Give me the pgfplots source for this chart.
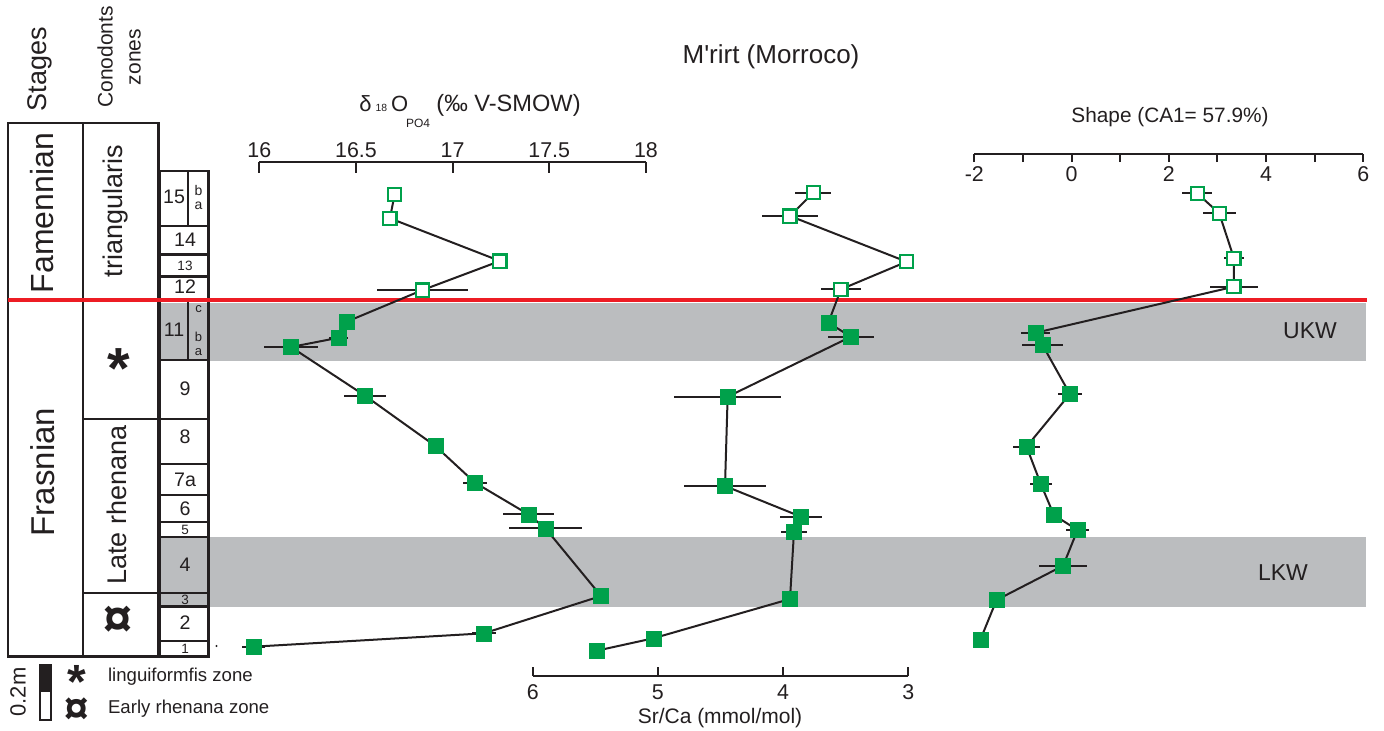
\documentclass[border=0pt]{standalone}
\usepackage{pgfplots}
\pgfplotsset{compat=1.18}
\usepackage{pgfplotstable}
\usepackage{fontspec}
\setmainfont{Liberation Sans}
\font\aposfont="Liberation Sans" at 13pt
\definecolor{grn}{RGB}{0,161,75}
\definecolor{bandgray}{RGB}{187,189,191}
\definecolor{txt}{RGB}{35,31,32}
\definecolor{redline}{RGB}{237,28,36}
\newcommand{\fs}[1]{\fontsize{#1}{#1}\selectfont}

% y = stratigraphic position (pixel rows of the log, top = 0)
\pgfplotstableread{
y x e
194.3 16.70 0
218.3 16.676 0
261.0 17.245 0
290.0 16.845 0.235
321.7 16.452 0
337.7 16.411 0.05
347.0 16.164 0.14
395.7 16.547 0.11
446.0 16.911 0
482.7 17.116 0.06
514.3 17.392 0.13
528.3 17.48 0.19
596.0 17.768 0
633.3 17.162 0.06
646.7 15.969 0.06
}\dO

\pgfplotstableread{
y x e
192.7 3.759 0.144
216.0 3.945 0.225
261.7 3.013 0
289.3 3.538 0.16
322.7 3.639 0
336.7 3.458 0.18
396.7 4.443 0.43
486.0 4.464 0.325
516.7 3.857 0.17
531.7 3.913 0.10
599.0 3.945 0
638.3 5.037 0
650.7 5.489 0
}\SrCa

\pgfplotstableread{
y x e
193.3 2.584 0.31
213.3 3.037 0.34
258.3 3.34 0.2
286.7 3.34 0.5
332.7 -0.735 0.3
345.0 -0.597 0.43
394.0 -0.035 0.25
446.7 -0.926 0.27
484.0 -0.632 0.22
515.0 -0.364 0
530.0 0.123 0.24
565.7 -0.173 0.49
600.0 -1.543 0.08
639.3 -1.872 0.05
}\Shape

\pgfplotsset{
  panel/.style={scale only axis, axis y line=none, ytick=\empty, clip=false,
    enlargelimits=false, y dir=reverse,
    axis line style={line width=1pt, txt, -},
    major tick style={line width=1pt, txt},
    minor tick style={line width=1pt, txt},
    ticklabel style={font=\fs{10.7}, text=txt},
    /pgf/number format/assume math mode=true},
  conn/.style={txt, line width=1pt, mark=none,
    error bars/.cd, x dir=both, x explicit, error mark=none,
    error bar style={line width=1pt, txt}},
  openmk/.style={only marks, mark=square*, mark size=3.3pt,
    mark options={fill=white, draw=grn, line width=1.1pt},
    skip coords between index={4}{40}},
  fillmk/.style={only marks, mark=square*, mark size=3.75pt,
    mark options={fill=grn, draw=grn, line width=0.2pt},
    skip coords between index={0}{4}},
}

\begin{document}
\begin{tikzpicture}[color=txt]
\useasboundingbox (0,0) rectangle (692pt,365pt);

% ---------- base canvas: log column, bands, labels ----------
\begin{axis}[name=base, at={(0,0)}, anchor=south west, scale only axis,
  width=692pt, height=365pt, xmin=0, xmax=1384, ymin=0, ymax=730,
  y dir=reverse, axis lines=none, xtick=\empty, ytick=\empty, clip=false]

\fill[bandgray] (axis cs:160,302.5) rectangle (axis cs:1366,360.5);
\fill[bandgray] (axis cs:160,537) rectangle (axis cs:1366,606.5);

% stages & conodont columns
\draw[line width=1.1pt] (axis cs:8.3,123) rectangle (axis cs:83,656.5);
\draw[line width=1.1pt] (axis cs:83,123) rectangle (axis cs:158.5,656.5);
\draw[line width=1.1pt] (axis cs:8.3,299) -- (axis cs:158.5,299);
\draw[line width=1.1pt] (axis cs:83,419) -- (axis cs:160,419);
\draw[line width=1.1pt] (axis cs:83,593) -- (axis cs:160,593);

% bed numbers column
\draw[line width=1.1pt] (axis cs:159.5,171) rectangle (axis cs:208.5,656.5);
\draw[line width=1.1pt] (axis cs:159.5,226) -- (axis cs:208.5,226);
\draw[line width=1.1pt] (axis cs:159.5,254.5) -- (axis cs:208.5,254.5);
\draw[line width=1.1pt] (axis cs:159.5,276.5) -- (axis cs:208.5,276.5);
\draw[line width=1.1pt] (axis cs:159.5,299) -- (axis cs:208.5,299);
\draw[line width=1.1pt] (axis cs:159.5,360) -- (axis cs:208.5,360);
\draw[line width=1.1pt] (axis cs:159.5,419) -- (axis cs:208.5,419);
\draw[line width=1.1pt] (axis cs:159.5,464) -- (axis cs:208.5,464);
\draw[line width=1.1pt] (axis cs:159.5,495) -- (axis cs:208.5,495);
\draw[line width=1.1pt] (axis cs:159.5,522) -- (axis cs:208.5,522);
\draw[line width=1.1pt] (axis cs:159.5,537) -- (axis cs:208.5,537);
\draw[line width=1.1pt] (axis cs:159.5,593) -- (axis cs:208.5,593);
\draw[line width=1.1pt] (axis cs:159.5,606.5) -- (axis cs:208.5,606.5);
\draw[line width=1.1pt] (axis cs:159.5,641) -- (axis cs:208.5,641);
\draw[line width=1.1pt] (axis cs:188,171) -- (axis cs:188,226);
\draw[line width=1.1pt] (axis cs:188,299) -- (axis cs:188,360);

\node[font=\fs{9.8}] at (axis cs:174,197) {15};
\node[font=\fs{7}] at (axis cs:198.5,190) {b};
\node[font=\fs{7}] at (axis cs:198.5,206) {a};
\node[font=\fs{9.8}] at (axis cs:185,240) {14};
\node[font=\fs{6.75}] at (axis cs:185,265.5) {13};
\node[font=\fs{9.8}] at (axis cs:185,287) {12};
\node[font=\fs{9.8}] at (axis cs:174,330) {11};
\node[font=\fs{6.5}] at (axis cs:198.5,309) {c};
\node[font=\fs{6.5}] at (axis cs:198.5,337) {b};
\node[font=\fs{6.5}] at (axis cs:198.5,352) {a};
\node[font=\fs{9.8}] at (axis cs:185,389) {9};
\node[font=\fs{9.8}] at (axis cs:185,437) {8};
\node[font=\fs{9.8}] at (axis cs:185,480) {7a};
\node[font=\fs{9.8}] at (axis cs:185,509) {6};
\node[font=\fs{6.75}] at (axis cs:185,530) {5};
\node[font=\fs{9.8}] at (axis cs:185,565) {4};
\node[font=\fs{6.75}] at (axis cs:185,600) {3};
\node[font=\fs{9.8}] at (axis cs:185,623) {2};
\node[font=\fs{6.75}] at (axis cs:185,649) {1};
\fill (axis cs:216.5,646) circle (0.6pt);

\node[rotate=90, font=\fs{13.5}] at (axis cs:40,69) {Stages};
\node[rotate=90, align=center, font=\fontsize{10.5}{14}\selectfont] at (axis cs:119,57) {Conodonts\\zones};
\node[rotate=90, font=\fs{16}] at (axis cs:42,213) {Famennian};
\node[rotate=90, font=\fs{16.5}] at (axis cs:43,472) {Frasnian};
\node[rotate=90, font=\fs{13.5}] at (axis cs:116,211) {triangularis};
\node[rotate=90, font=\fs{13.5}] at (axis cs:117,505) {Late rhenana};
\node[anchor=base, inner sep=0, font=\fs{29}\bfseries] at (axis cs:119,388) {*};
\node[anchor=base, inner sep=0, font=\fs{26}\bfseries] at (axis cs:118,636) {¤};

% legend
\fill (axis cs:40,665) rectangle (axis cs:50.7,692);
\draw[line width=0.9pt] (axis cs:40,665) rectangle (axis cs:50.7,720);
\node[rotate=90, font=\fs{11}] at (axis cs:18,692) {0.2m};
\node[anchor=base, inner sep=0, font=\fs{24}\bfseries] at (axis cs:77,698) {*};
\node[anchor=base, inner sep=0, font=\fs{22}\bfseries] at (axis cs:77,723) {¤};
\node[anchor=west, font=\fs{9.3}] at (axis cs:101,677) {linguiformfis zone};
\node[anchor=west, font=\fs{9.3}] at (axis cs:101,709) {Early rhenana zone};

% red boundary
\draw[redline, line width=2.3pt] (axis cs:8,300) -- (axis cs:1367,300);

% titles
\node[font=\fs{13}] at (axis cs:771,57) {M{\aposfont\char"0027}rirt (Morroco)};
\node[anchor=base west, inner sep=0, font=\fs{11}] at (axis cs:359,111)
  {δ\hspace{2pt}{\fs{5.2}18}\hspace{2pt}O};
\node[font=\fs{6}] at (axis cs:418,123) {PO4};
\node[anchor=base west, inner sep=0, font=\fs{11.8}] at (axis cs:436,111) {(‰ V-SMOW)};
\node[font=\fs{10.4}] at (axis cs:1170,117) {Shape (CA1= 57.9\%)};
\node[font=\fs{10.5}] at (axis cs:720,718) {Sr/Ca (mmol/mol)};
\node[font=\fs{11.5}] at (axis cs:1310,331) {UKW};
\node[font=\fs{11.5}] at (axis cs:1283,573) {LKW};
\end{axis}

% ---------- delta 18O panel ----------
\begin{axis}[panel, at={(129.65pt,0pt)}, anchor=south west,
  width=193.3pt, height=284pt, xmin=16, xmax=18, ymin=162, ymax=730,
  axis x line*=top, tick align=inside, major tick length=5.5pt,
  xtick={16,16.5,17,17.5,18}, xticklabels={16,16.5,17,17.5,18},
  xticklabel style={inner sep=2pt}]
\addplot[conn] table[x=x, y=y, x error=e] {\dO};
\addplot[openmk] table[x=x, y=y] {\dO};
\addplot[fillmk] table[x=x, y=y] {\dO};
\end{axis}

% ---------- Sr/Ca panel ----------
\begin{axis}[panel, at={(266.35pt,27pt)}, anchor=south west,
  width=187.8pt, height=338pt, xmin=3, xmax=6, x dir=reverse, ymin=0, ymax=676,
  axis x line*=bottom, tick align=inside, major tick length=4.5pt,
  xtick={3,4,5,6}, xticklabels={3,4,5,6},
  xticklabel style={inner sep=2pt, yshift=-2pt}]
\addplot[conn] table[x=x, y=y, x error=e] {\SrCa};
\addplot[openmk] table[x=x, y=y] {\SrCa};
\addplot[fillmk] table[x=x, y=y] {\SrCa};
\end{axis}

% ---------- Shape panel ----------
\begin{axis}[panel, at={(487.15pt,288pt)}, anchor=south west,
  width=194.5pt, height=77pt, xmin=-2, xmax=6, ymin=0, ymax=154,
  axis x line*=bottom, tick align=outside, major tick length=4pt, minor tick length=4pt,
  xtick={-2,0,2,4,6}, xticklabels={-2,0,2,4,6}, minor xtick={-1,1,3,5},
  xticklabel style={inner sep=2pt}]
\addplot[conn] table[x=x, y=y, x error=e] {\Shape};
\addplot[openmk] table[x=x, y=y] {\Shape};
\addplot[fillmk] table[x=x, y=y] {\Shape};
\end{axis}
\end{tikzpicture}
\end{document}
